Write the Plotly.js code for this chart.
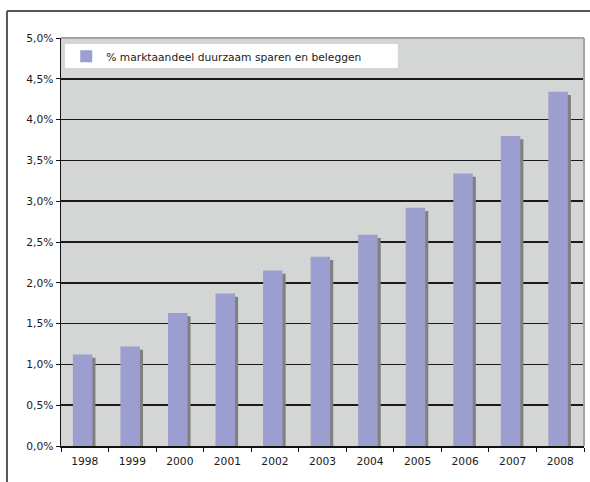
<!DOCTYPE html>
<html>
<head>
<meta charset="utf-8">
<script src="https://cdn.plot.ly/plotly-3.0.1.min.js"></script>
<style>
  html, body { margin: 0; padding: 0; background: #ffffff; }
  #chart { width: 590px; height: 482px; }
</style>
</head>
<body>
<div id="chart"></div>
<script>
// Marktaandeel duurzaam sparen en beleggen, 1998-2008 (in %)
const years = ['1998', '1999', '2000', '2001', '2002', '2003', '2004', '2005', '2006', '2007', '2008'];
const share = [1.12, 1.22, 1.63, 1.87, 2.15, 2.32, 2.59, 2.92, 3.34, 3.80, 4.34];
const seriesName = '% marktaandeel duurzaam sparen en beleggen';

const font = { family: 'DejaVu Sans, Verdana, sans-serif', size: 10.7, color: '#1a1a1a' };

// drop shadow behind each bar, shifted right and slightly down
const shadow = {
  type: 'bar',
  x: years,
  y: share,
  base: -0.04,
  width: 0.41,
  offset: -0.185,
  marker: { color: '#808080', line: { width: 0 } },
  showlegend: false,
  hoverinfo: 'skip'
};

const bars = {
  type: 'bar',
  x: years,
  y: share,
  name: seriesName,
  width: 0.41,
  offset: -0.25,
  marker: { color: '#9c9ecf', line: { width: 0 } }
};

const layout = {
  width: 590,
  height: 482,
  margin: { l: 61, r: 6, t: 38, b: 36 },
  paper_bgcolor: '#ffffff',
  plot_bgcolor: '#d4d6d5',
  font: font,
  separators: ',.',
  barmode: 'overlay',
  showlegend: true,
  legend: {
    x: 0.01, xanchor: 'left',
    y: 0.955, yanchor: 'middle',
    bgcolor: 'rgba(0,0,0,0)',
    borderwidth: 0,
    font: font
  },
  xaxis: {
    type: 'category',
    showgrid: false,
    showline: true,
    linecolor: '#111111',
    linewidth: 1.5,
    ticks: 'outside',
    tickson: 'boundaries',
    ticklen: 4,
    tickcolor: '#111111',
    tickfont: font,
    ticklabelstandoff: 5,
    fixedrange: true
  },
  yaxis: {
    range: [0, 5],
    dtick: 0.5,
    tick0: 0,
    tickformat: '.1f',
    ticksuffix: '%',
    showgrid: true,
    gridcolor: '#1a1a1a',
    gridwidth: 1.5,
    zeroline: false,
    showline: true,
    linecolor: '#111111',
    linewidth: 1.5,
    ticks: 'outside',
    ticklen: 4,
    tickcolor: '#111111',
    tickfont: font,
    fixedrange: true
  },
  shapes: [
    // plot area border (top and right in grey)
    { type: 'line', xref: 'paper', yref: 'paper', x0: 0, x1: 1, y0: 1, y1: 1,
      line: { color: '#a3a3a3', width: 2 }, layer: 'above' },
    { type: 'line', xref: 'paper', yref: 'paper', x0: 1, x1: 1, y0: 0, y1: 1,
      line: { color: '#a3a3a3', width: 2 }, layer: 'above' },
    // white legend box
    { type: 'rect', xref: 'paper', yref: 'paper', x0: 0.0076, x1: 0.644, y0: 0.9265, y1: 0.985,
      fillcolor: '#ffffff', line: { width: 0 }, layer: 'above' },
    // outer chart frame
    { type: 'line', xref: 'paper', yref: 'paper', x0: -0.1033, x1: 1.02, y0: 1.066, y1: 1.066,
      line: { color: '#555555', width: 2 }, layer: 'above' },
    { type: 'line', xref: 'paper', yref: 'paper', x0: -0.1033, x1: -0.1033, y0: -0.1, y1: 1.066,
      line: { color: '#555555', width: 2 }, layer: 'above' }
  ]
};

Plotly.newPlot('chart', [shadow, bars], layout, { displayModeBar: false, staticPlot: true });
</script>
</body>
</html>
